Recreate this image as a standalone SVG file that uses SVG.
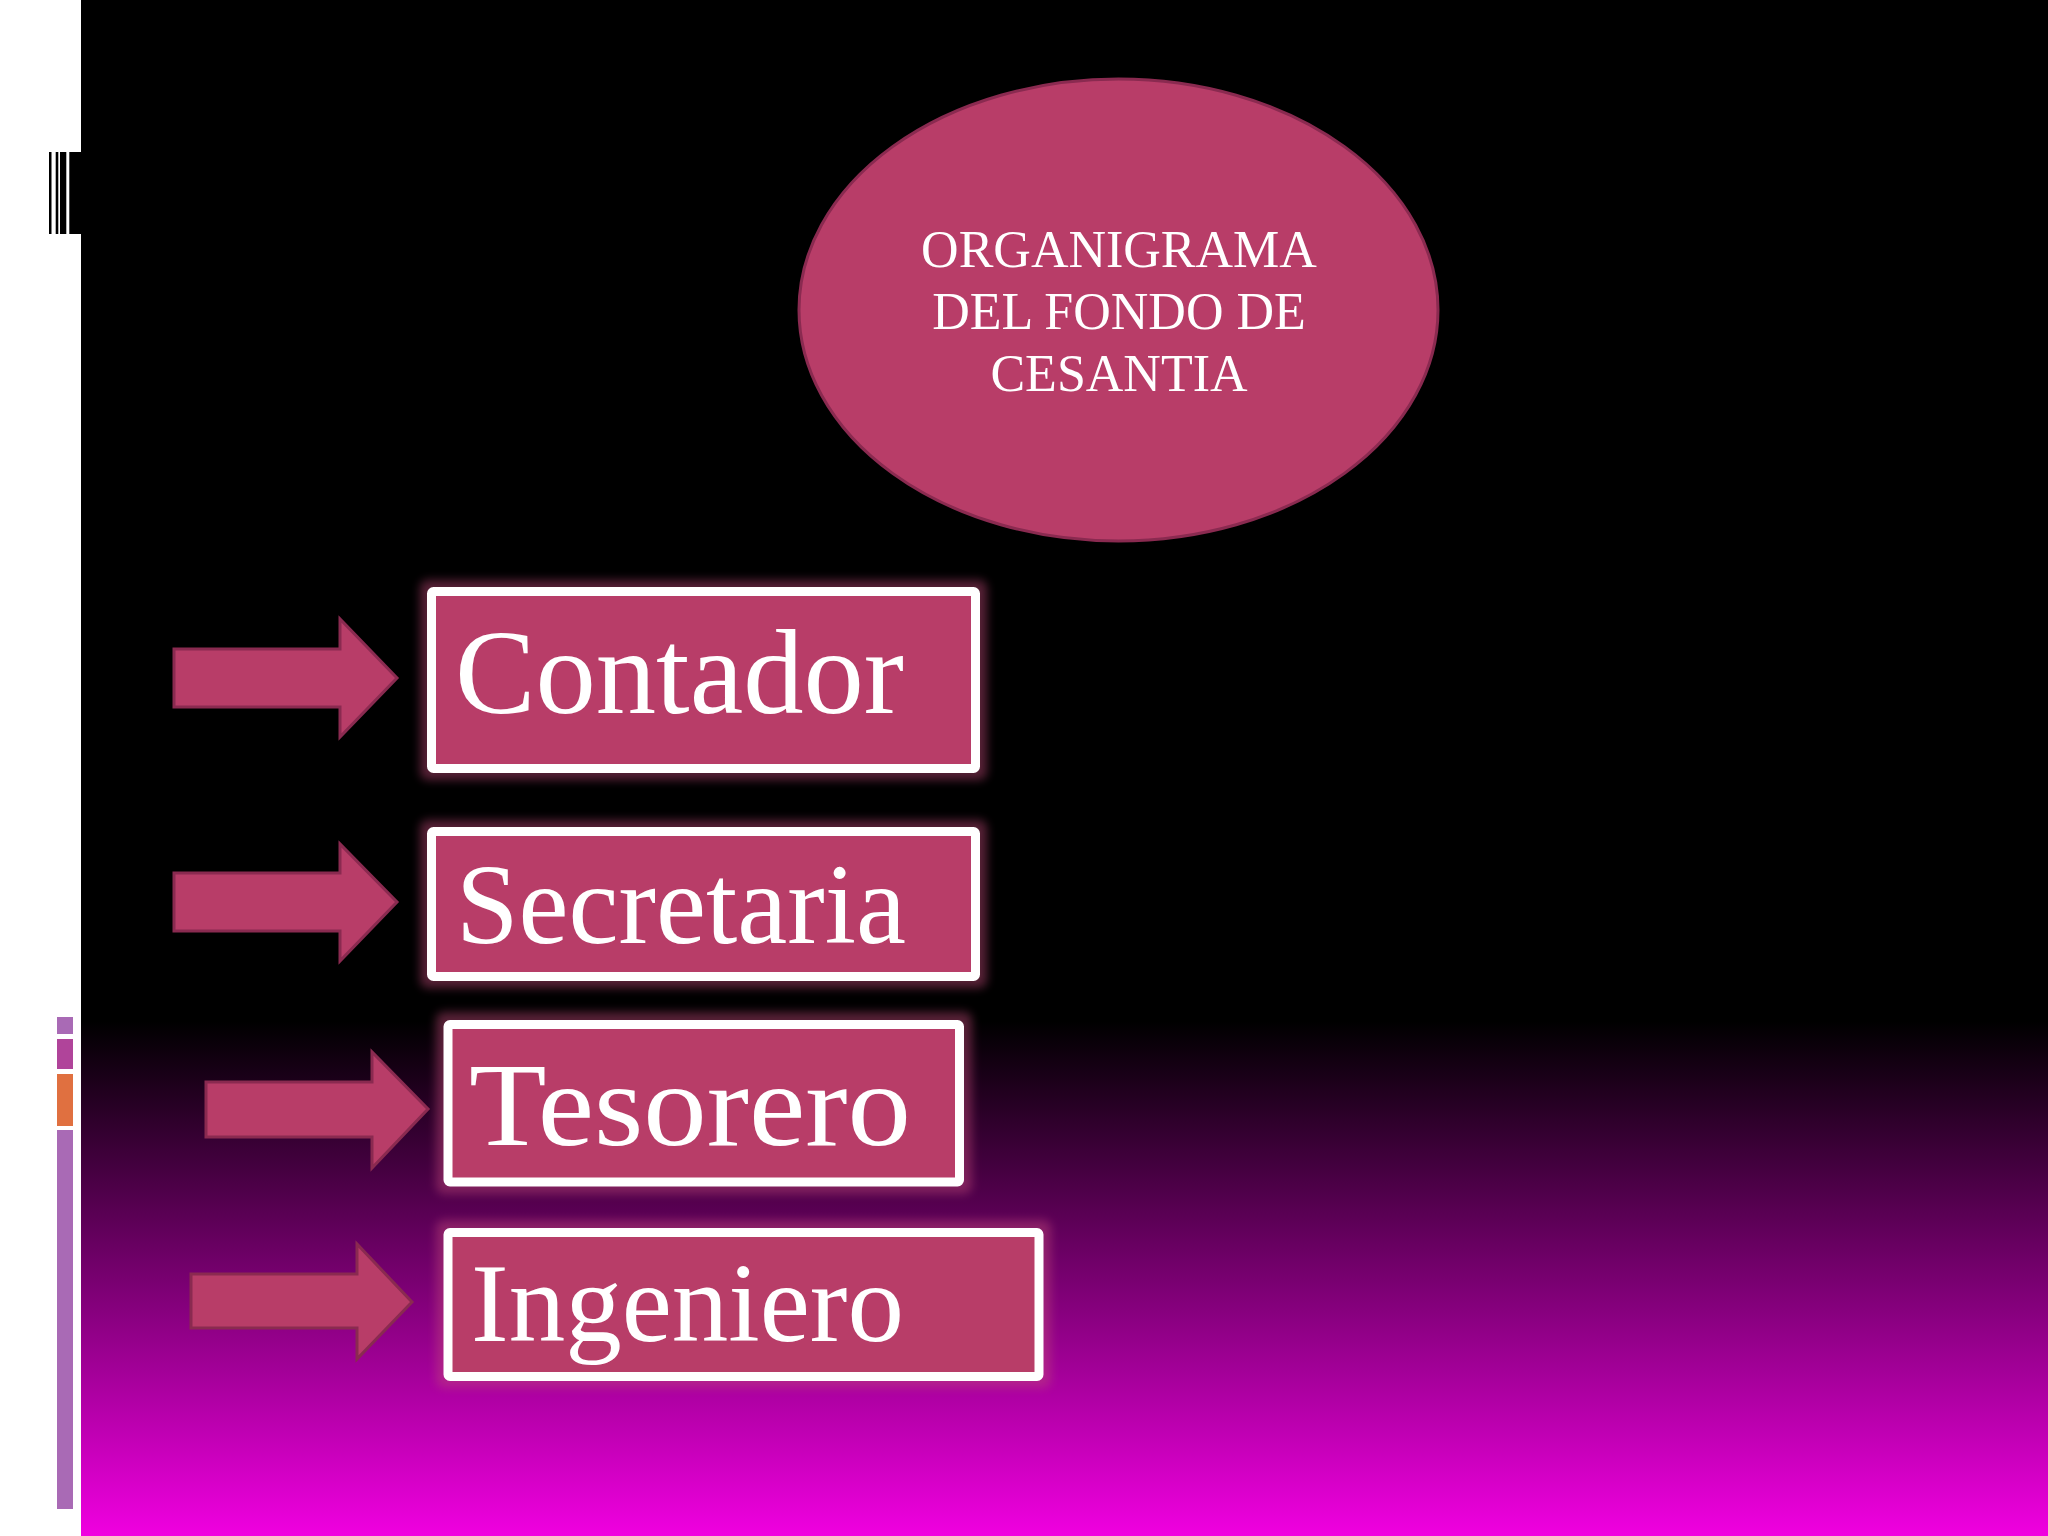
<svg xmlns="http://www.w3.org/2000/svg" width="2048" height="1536" viewBox="0 0 2048 1536">
<defs>
<linearGradient id="bg" x1="0" y1="0" x2="0" y2="1536" gradientUnits="userSpaceOnUse">
<stop offset="0" stop-color="#000000"/>
<stop offset="0.665" stop-color="#000000"/>
<stop offset="1" stop-color="#f000e0"/>
</linearGradient>
<filter id="glow" x="-10%" y="-20%" width="120%" height="140%">
<feGaussianBlur stdDeviation="5"/>
</filter>
<style>
.shape{fill:#b83d68;stroke:#8a2a50;stroke-width:3}
.box{fill:#b83d68;stroke:#ffffff;stroke-width:9}
.halo{fill:#c04a78;opacity:0.45}
.big{font-family:"Liberation Serif","Times New Roman",serif;fill:#ffffff}
.title{font-family:"Liberation Serif","Times New Roman",serif;font-size:52px;fill:#ffffff;text-anchor:middle}
</style>
</defs>
<rect x="0" y="0" width="2048" height="1536" fill="url(#bg)"/>
<rect x="0" y="0" width="81" height="1536" fill="#ffffff"/>
<g id="barcode" fill="#000000">
<rect x="49" y="152" width="2.5" height="82"/>
<rect x="55.7" y="152" width="2.6" height="82"/>
<rect x="60" y="152" width="6.3" height="82"/>
<rect x="69.3" y="152" width="11.7" height="82"/>
</g>
<g id="sidebars">
<rect x="57" y="1017" width="16" height="17" fill="#a96ab5"/>
<rect x="57" y="1039" width="16" height="30" fill="#b0449a"/>
<rect x="57" y="1074" width="16" height="52" fill="#e07040"/>
<rect x="57" y="1130" width="16" height="379" fill="#a96ab5"/>
</g>
<g id="title">
<ellipse class="shape" cx="1118.5" cy="310" rx="319.5" ry="231"/>
<text class="title" x="1119" y="267">ORGANIGRAMA</text>
<text class="title" x="1119" y="329">DEL FONDO DE</text>
<text class="title" x="1119" y="391">CESANTIA</text>
</g>
<g id="connectors">
<polygon class="shape" points="174,649 340,649 340,619 397,678 340,737 340,707 174,707"/>
<polygon class="shape" points="174,873 340,873 340,844 397,902 340,961 340,931 174,931"/>
<polygon class="shape" points="206,1082 372,1082 372,1052 428,1109 372,1168 372,1137 206,1137"/>
<polygon class="shape" points="191,1274 357,1274 357,1244 412,1302 357,1359 357,1328 191,1328"/>
</g>
<g id="contador">
<rect class="halo" x="420" y="580" width="567" height="200" rx="8" filter="url(#glow)"/>
<rect class="box" x="431.5" y="591.5" width="544" height="177" rx="2"/>
<text class="big" x="455" y="713" font-size="121" textLength="449" lengthAdjust="spacingAndGlyphs">Contador</text>
</g>
<g id="secretaria">
<rect class="halo" x="420" y="820" width="567" height="168" rx="8" filter="url(#glow)"/>
<rect class="box" x="431.5" y="831.5" width="544" height="145" rx="2"/>
<text class="big" x="456" y="943" font-size="115" textLength="450" lengthAdjust="spacingAndGlyphs">Secretaria</text>
</g>
<g id="tesorero">
<rect class="halo" x="436" y="1012" width="536" height="182" rx="8" filter="url(#glow)"/>
<rect class="box" x="448" y="1024.5" width="511.5" height="157.5" rx="2"/>
<text class="big" x="469" y="1145" font-size="118" textLength="442" lengthAdjust="spacingAndGlyphs">Tesorero</text>
</g>
<g id="ingeniero">
<rect class="halo" x="436" y="1220" width="615" height="168" rx="8" filter="url(#glow)"/>
<rect class="box" x="448" y="1232.5" width="591" height="144" rx="2"/>
<text class="big" x="471" y="1341" font-size="112" textLength="433" lengthAdjust="spacingAndGlyphs">Ingeniero</text>
</g>
</svg>
